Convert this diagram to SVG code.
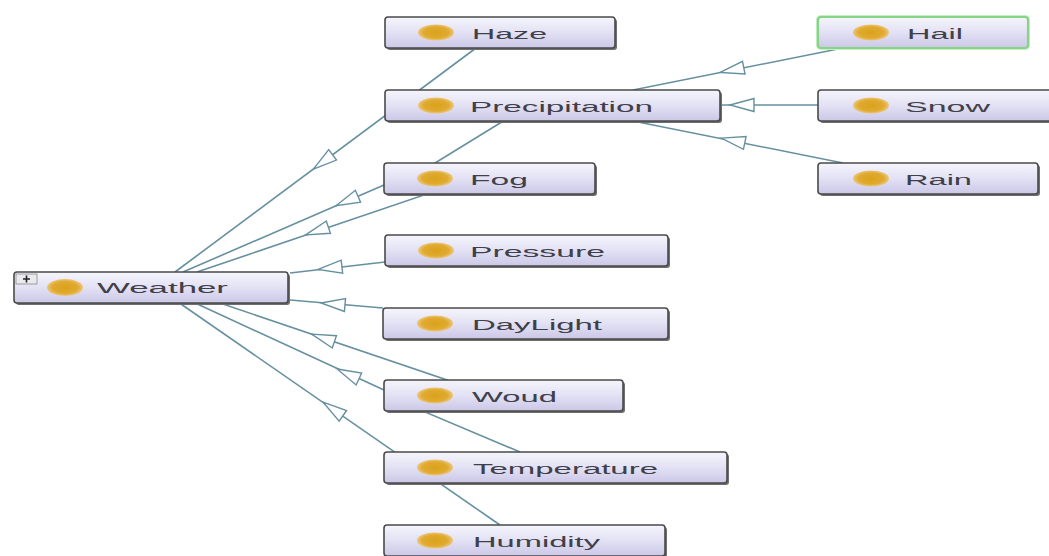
<svg xmlns="http://www.w3.org/2000/svg" width="1049" height="556" viewBox="0 0 1049 556">
  <style>
    .shadow { fill: #6e6e6e; }
    .box { fill: url(#boxFill); stroke: #4a4a4a; stroke-width: 1.6; }
    .sel { fill: url(#boxFill); stroke: #86d486; stroke-width: 2.2; }
    .glow { fill: none; stroke: #c6efc6; stroke-width: 4; }
    .dot { fill: url(#dotFill); }
    .lbl { font-family: "Liberation Sans", Arial, sans-serif; font-size: 15.5px; fill: #404048; }
    .edge { fill: none; stroke: #6690a0; stroke-width: 1.6; }
    .tri { fill: #ffffff; stroke: #6690a0; stroke-width: 1.4; }
  </style>
  <defs>
    <linearGradient id="boxFill" x1="0" y1="0" x2="0" y2="1">
      <stop offset="0" stop-color="#f5f5fc"/>
      <stop offset="0.5" stop-color="#e3e1f4"/>
      <stop offset="1" stop-color="#cbc7e7"/>
    </linearGradient>
    <radialGradient id="dotFill" cx="0.5" cy="0.5" r="0.5">
      <stop offset="0" stop-color="#d9a21c"/>
      <stop offset="0.7" stop-color="#e0aa30"/>
      <stop offset="1" stop-color="#ecc77a"/>
    </radialGradient>
    <polygon id="tri" class="tri" points="-12,0 12,-6.5 12,6.5"/>
  </defs>

  <rect width="1049" height="556" fill="#ffffff"/>

  <g id="connectors">
    <path class="edge" d="M175,272 L476,48"/>
    <path class="edge" d="M183,272 L384,185"/>
    <path class="edge" d="M197,272 L430,193 L435,163 L505,120"/>
    <path class="edge" d="M290,273 L385,262"/>
    <path class="edge" d="M290,300 L383,308"/>
    <path class="edge" d="M217,302 L447,380 L425,412 L520,452"/>
    <path class="edge" d="M193,302 L384,390"/>
    <path class="edge" d="M178,302 L500,525"/>
    <path class="edge" d="M633,90 L843,48"/>
    <path class="edge" d="M720,105 L818,105"/>
    <path class="edge" d="M633,121 L843,163"/>
    <use href="#tri" transform="translate(323,162) rotate(-36.7)"/>
    <use href="#tri" transform="translate(347,201) rotate(-23.5)"/>
    <use href="#tri" transform="translate(317,231) rotate(-18.7)"/>
    <use href="#tri" transform="translate(330,268) rotate(-6.6)"/>
    <use href="#tri" transform="translate(333,304) rotate(4.9)"/>
    <use href="#tri" transform="translate(323,338) rotate(18.7)"/>
    <use href="#tri" transform="translate(348,374) rotate(24.8)"/>
    <use href="#tri" transform="translate(333,409) rotate(34.7)"/>
    <use href="#tri" transform="translate(732,70) rotate(-11.3)"/>
    <use href="#tri" transform="translate(742,105) rotate(0)"/>
    <use href="#tri" transform="translate(733,140.5) rotate(11.6)"/>
  </g>

  <g id="node-weather">
    <rect class="shadow" x="16" y="274" width="274" height="31" rx="3"/>
    <rect class="box" x="14" y="272" width="274" height="31" rx="3"/>
    <rect x="16" y="274" width="21" height="10" fill="#e9e9ee" stroke="#8a8a8a" stroke-width="0.8"/>
    <path d="M23,279 h7 M26.5,275.5 v7" stroke="#222" stroke-width="1.6"/>
    <ellipse class="dot" cx="65" cy="287.5" rx="18" ry="8.5"/>
    <text class="lbl" x="97" y="293" textLength="131" lengthAdjust="spacingAndGlyphs">Weather</text>
  </g>

  <g id="node-haze">
    <rect class="shadow" x="387" y="19" width="230" height="31" rx="3"/>
    <rect class="box" x="385" y="17" width="230" height="31" rx="3"/>
    <ellipse class="dot" cx="436" cy="32.5" rx="18" ry="8"/>
    <text class="lbl" x="472" y="38.5" textLength="75" lengthAdjust="spacingAndGlyphs">Haze</text>
  </g>

  <g id="node-precipitation">
    <rect class="shadow" x="387" y="92" width="335" height="31" rx="3"/>
    <rect class="box" x="385" y="90" width="335" height="31" rx="3"/>
    <ellipse class="dot" cx="436" cy="105.5" rx="18" ry="8"/>
    <text class="lbl" x="470" y="111.5" textLength="183" lengthAdjust="spacingAndGlyphs" fill="#3a4460">Precipitation</text>
  </g>

  <g id="node-hail">
    <rect class="glow" x="818" y="17" width="210" height="31" rx="3"/>
    <rect class="sel" x="818" y="17" width="210" height="31" rx="3"/>
    <ellipse class="dot" cx="871" cy="32.5" rx="18" ry="8"/>
    <text class="lbl" x="907" y="38.5" textLength="56" lengthAdjust="spacingAndGlyphs">Hail</text>
  </g>

  <g id="node-snow">
    <rect class="shadow" x="820" y="92" width="240" height="31" rx="3"/>
    <rect class="box" x="818" y="90" width="240" height="31" rx="3"/>
    <ellipse class="dot" cx="871" cy="105.5" rx="18" ry="8"/>
    <text class="lbl" x="905" y="111.5" textLength="85" lengthAdjust="spacingAndGlyphs">Snow</text>
  </g>

  <g id="node-rain">
    <rect class="shadow" x="820" y="165" width="220" height="31" rx="3"/>
    <rect class="box" x="818" y="163" width="220" height="31" rx="3"/>
    <ellipse class="dot" cx="871" cy="178.5" rx="18" ry="8"/>
    <text class="lbl" x="905" y="184.5" textLength="67" lengthAdjust="spacingAndGlyphs">Rain</text>
  </g>

  <g id="node-fog">
    <rect class="shadow" x="386" y="165" width="211" height="31" rx="3"/>
    <rect class="box" x="384" y="163" width="211" height="31" rx="3"/>
    <ellipse class="dot" cx="435" cy="178.5" rx="18" ry="8"/>
    <text class="lbl" x="470" y="184.5" textLength="58" lengthAdjust="spacingAndGlyphs">Fog</text>
  </g>

  <g id="node-pressure">
    <rect class="shadow" x="387" y="237" width="283" height="31" rx="3"/>
    <rect class="box" x="385" y="235" width="283" height="31" rx="3"/>
    <ellipse class="dot" cx="436" cy="250.5" rx="18" ry="8"/>
    <text class="lbl" x="470" y="256.5" textLength="135" lengthAdjust="spacingAndGlyphs">Pressure</text>
  </g>

  <g id="node-daylight">
    <rect class="shadow" x="385" y="310" width="285" height="31" rx="3"/>
    <rect class="box" x="383" y="308" width="285" height="31" rx="3"/>
    <ellipse class="dot" cx="435" cy="323.5" rx="18" ry="8"/>
    <text class="lbl" x="472" y="329.5" textLength="130" lengthAdjust="spacingAndGlyphs">DayLight</text>
  </g>

  <g id="node-woud">
    <rect class="shadow" x="386" y="382" width="239" height="31" rx="3"/>
    <rect class="box" x="384" y="380" width="239" height="31" rx="3"/>
    <ellipse class="dot" cx="435" cy="395.5" rx="18" ry="8"/>
    <text class="lbl" x="472" y="401.5" textLength="85" lengthAdjust="spacingAndGlyphs">Woud</text>
  </g>

  <g id="node-temperature">
    <rect class="shadow" x="386" y="454" width="343" height="31" rx="3"/>
    <rect class="box" x="384" y="452" width="343" height="31" rx="3"/>
    <ellipse class="dot" cx="435" cy="467.5" rx="18" ry="8"/>
    <text class="lbl" x="473" y="473.5" textLength="185" lengthAdjust="spacingAndGlyphs">Temperature</text>
  </g>

  <g id="node-humidity">
    <rect class="shadow" x="386" y="527" width="281" height="31" rx="3"/>
    <rect class="box" x="384" y="525" width="281" height="31" rx="3"/>
    <ellipse class="dot" cx="435" cy="540.5" rx="18" ry="8"/>
    <text class="lbl" x="473" y="546.5" textLength="127" lengthAdjust="spacingAndGlyphs">Humidity</text>
  </g>
</svg>
